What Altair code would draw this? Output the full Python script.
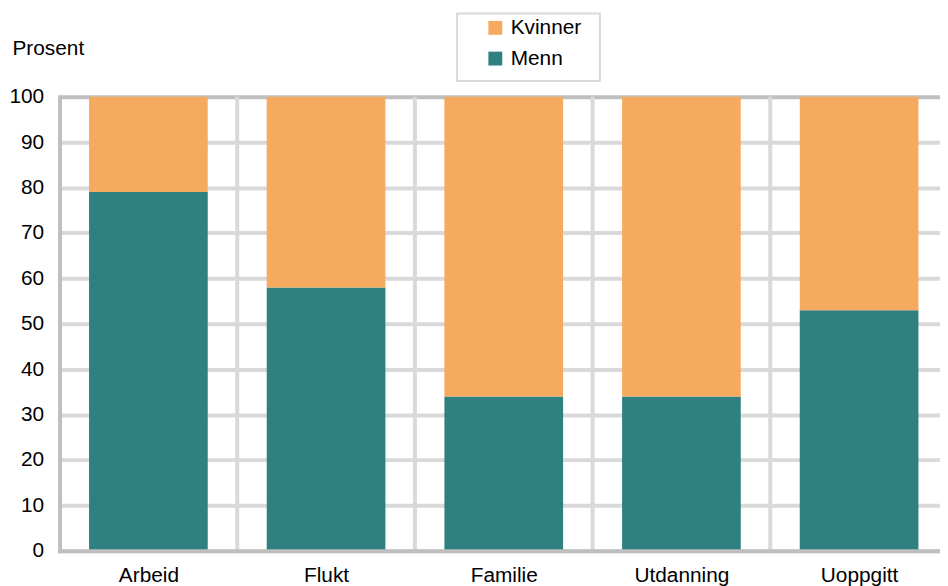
import json
import altair as alt
import pandas as pd

categories = ["Arbeid", "Flukt", "Familie", "Utdanning", "Uoppgitt"]
menn = [79, 58, 34, 34, 53]
kvinner = [21, 42, 66, 66, 47]
series = ["Kvinner", "Menn"]
colors = ["#F6AA5F", "#2E817F"]
y_ticks = list(range(0, 101, 10))

idx = list(range(len(categories)))
rows = []
for i, c, m, k in zip(idx, categories, menn, kvinner):
    rows.append({"kategori": c, "kjonn": "Menn", "i": i, "y0": 0, "y1": m})
    rows.append({"kategori": c, "kjonn": "Kvinner", "i": i, "y0": m, "y1": m + k})
df = pd.DataFrame(rows)
boundaries = pd.DataFrame({"b": list(range(1, len(categories) + 1))})

FONT = "Liberation Sans, Arial, sans-serif"
FS = 21
PLOT_W = 888          # visible plot width
BAND_SPAN = 896       # pixel span of the five category bands
x_max = len(categories) * PLOT_W / BAND_SPAN

x_scale = alt.Scale(domain=[0, x_max], nice=False, zero=False)
y_scale = alt.Scale(domain=[0, 100], nice=False)

x_axis = alt.Axis(
    title=None, values=[i + 0.5 for i in idx], grid=False, ticks=False,
    labelExpr=json.dumps(categories) + "[floor(datum.value)]",
    domainColor="#bfbfbf", domainWidth=4, domainCap="square",
    labelAngle=0, labelFont=FONT, labelFontSize=FS, labelColor="black",
    labelPadding=14, labelFlush=False, zindex=1,
)
y_axis = alt.Axis(
    title="Prosent", titleAngle=0, titleAlign="left", titleBaseline="alphabetic",
    titleX=-48, titleY=-43, titleFont=FONT, titleFontSize=FS, titleFontWeight="normal",
    titleColor="black",
    values=y_ticks, grid=True,
    gridColor={"condition": {"test": "datum.value == 100", "value": "#bfbfbf"}, "value": "#d9d9d9"},
    gridWidth=4, ticks=False, domainColor="#bfbfbf", domainWidth=4, domainCap="square",
    labelFont=FONT, labelFontSize=FS, labelColor="black", labelPadding=16,
)

vgrid = alt.Chart(boundaries).mark_rule(color="#d9d9d9", strokeWidth=4).encode(
    x=alt.X("b:Q", scale=x_scale, axis=x_axis),
    y=alt.Y(datum=0, scale=y_scale, axis=y_axis),
    y2=alt.Y2(datum=100),
)

bars = alt.Chart(df).transform_calculate(
    xa="datum.i + 0.166", xb="datum.i + 0.834"
).mark_bar().encode(
    x=alt.X("xa:Q", scale=x_scale, axis=x_axis),
    x2="xb:Q",
    y=alt.Y("y0:Q", scale=y_scale, axis=y_axis),
    y2="y1:Q",
    color=alt.Color(
        "kjonn:N",
        scale=alt.Scale(domain=series, range=colors),
        legend=alt.Legend(
            title=None, orient="none", legendX=429, legendY=-80, symbolType="square",
            symbolSize=196, symbolStrokeWidth=0, labelFont=FONT, labelFontSize=FS,
            labelColor="black", rowPadding=9, labelOffset=5, padding=0,
        ),
    ),
)

legend_box = alt.Chart(alt.Data(values=[{}])).mark_rect(
    fillOpacity=0, stroke="#d9d9d9", strokeWidth=2
).encode(
    x=alt.value(401), x2=alt.value(545), y=alt.value(-84), y2=alt.value(-16)
)

chart = alt.layer(vgrid, bars, legend_box).properties(
    width=PLOT_W,
    height=458,
    autosize=alt.AutoSizeParams(type="none"),
    padding={"left": 52, "top": 87, "right": 0, "bottom": 40},
).configure_view(stroke="transparent")

chart.save("out.html", embed_options={"renderer": "svg", "actions": False})
